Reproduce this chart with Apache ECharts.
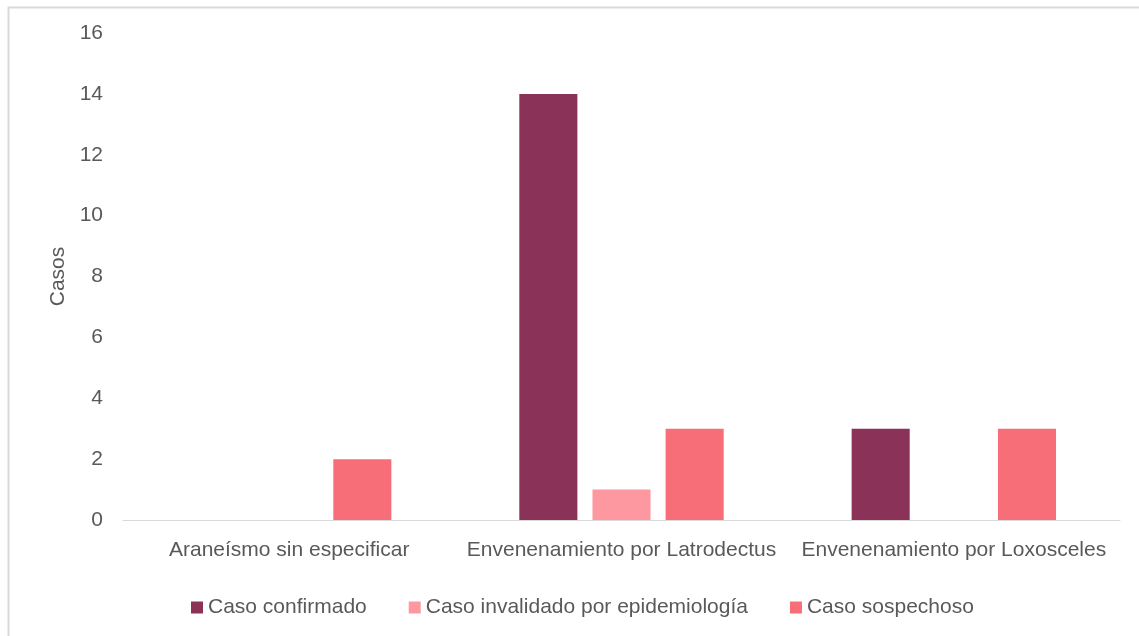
<!DOCTYPE html>
<html>
<head>
<meta charset="utf-8">
<script src="https://cdn.jsdelivr.net/npm/echarts@6/dist/echarts.min.js"></script>
<style>
html,body{margin:0;padding:0;background:#fff;}
#c{width:1139px;height:636px;}
</style>
</head>
<body>
<div id="c"></div>
<script>
const categories = ["Araneísmo sin especificar", "Envenenamiento por Latrodectus", "Envenenamiento por Loxosceles"];
const seriesNames = ["Caso confirmado", "Caso invalidado por epidemiología", "Caso sospechoso"];
const confirmado = [null, 14, 3];
const invalidado = [null, 1, null];
const sospechoso = [2, 3, 3];
const colors = ["#8A3257", "#FE98A0", "#F76E78"];

const font = "Liberation Sans, Arial, sans-serif";
const fs = 21;
const chart = echarts.init(document.getElementById('c'));
const dataSets = [confirmado, invalidado, sospechoso];
chart.setOption({
  animation: false,
  textStyle: {fontFamily: font},
  graphic: [{
    type: 'rect', left: 6, top: 5, silent: true,
    shape: {width: 1200, height: 700},
    style: {fill: 'none', stroke: '#D9D9D9', lineWidth: 2}
  }],
  grid: {left: 123, right: 19, top: 33, bottom: 116},
  legend: {
    left: 186, top: 592,
    itemWidth: 12, itemHeight: 12, itemGap: 42,
    icon: 'rect',
    textStyle: {color: '#595959', fontSize: fs, fontFamily: font},
    data: seriesNames
  },
  xAxis: {
    type: 'category', data: categories,
    axisLine: {lineStyle: {color: '#D9D9D9', width: 1}},
    axisTick: {show: false},
    axisLabel: {color: '#595959', fontSize: fs, margin: 20, fontFamily: font, interval: 0, hideOverlap: false}
  },
  yAxis: {
    type: 'value', min: 0, max: 16, interval: 2,
    name: 'Casos', nameLocation: 'middle', nameGap: 52, nameRotate: 90,
    nameTextStyle: {color: '#595959', fontSize: fs, fontFamily: font},
    axisLine: {show: false}, axisTick: {show: false},
    splitLine: {show: false},
    axisLabel: {color: '#595959', fontSize: fs, margin: 20, fontFamily: font}
  },
  series: seriesNames.map((n, i) => ({
    name: n, type: 'bar', data: dataSets[i],
    itemStyle: {color: colors[i]},
    barGap: '26%', barCategoryGap: '38.5%'
  }))
});
</script>
</body>
</html>
